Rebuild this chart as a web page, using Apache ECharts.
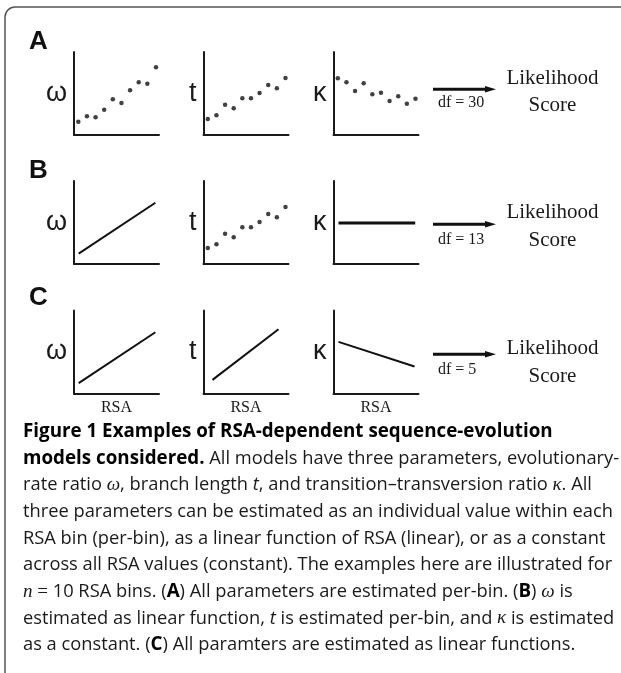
<!DOCTYPE html>
<html lang="en" style="height: 100%">
<head>
  <meta charset="utf-8">
</head>
<body style="height: 100%; margin: 0; background: #fff">
  <div id="container" style="width: 621px; height: 673px"></div>

  <script type="text/javascript" src="https://fastly.jsdelivr.net/npm/echarts@6.0.0/dist/echarts.min.js"></script>

  <script type="text/javascript">
    // values (y in arbitrary 0-10 units, x = RSA bin)
    var rowLetters = ['A', 'B', 'C'];
    var paramNames = ['ω', 't', 'κ'];
    var dfValues = [30, 13, 5];
    var bins = [1, 2, 3, 4, 5, 6, 7, 8, 9, 10];
    var omegaPerBin = [1.60, 2.25, 2.13, 3.05, 4.30, 3.86, 5.39, 6.35, 6.18, 8.16];
    var tPerBin = [1.93, 2.37, 3.65, 3.22, 4.42, 4.42, 5.06, 6.02, 5.63, 6.87];
    var kappaPerBin = [6.83, 6.35, 5.30, 6.23, 4.90, 5.10, 4.10, 4.66, 3.77, 4.37];
    var omegaLinear = [[1.04, 1.26], [9.93, 7.38]];
    var tLinear = [[1.54, 1.64], [9.19, 7.75]];
    var kappaConstant = [[1.08, 4.94], [9.97, 4.94]];
    var kappaLinear = [[1.08, 6.22], [9.89, 3.25]];

    var captionLines = [
      '{b|Figure 1 Examples of RSA-dependent sequence-evolution}',
      '{b|models considered.} All models have three parameters, evolutionary-',
      'rate ratio {i|ω}, branch length {ti|t}, and transition–transversion ratio {i|κ}. All',
      'three parameters can be estimated as an individual value within each',
      'RSA bin (per-bin), as a linear function of RSA (linear), or as a constant',
      'across all RSA values (constant). The examples here are illustrated for',
      '{i|n} {m|=} 10 RSA bins. ({b|A}) All parameters are estimated per-bin. ({b|B}) {i|ω} is',
      'estimated as linear function, {ti|t} is estimated per-bin, and {i|κ} is estimated',
      'as a constant. ({b|C}) All paramters are estimated as linear functions.'
    ];

    var dom = document.getElementById('container');
    var myChart = echarts.init(dom, null, { renderer: 'canvas' });
    var option;

    var INK = '#1a1a1a';
    var gridLefts = [74, 203.5, 333.5];
    var gridTops = [52, 181, 310.5];

    function dots(vals) {
      return {
        type: 'scatter',
        data: bins.map(function (b, i) { return [b, vals[i]]; }),
        symbolSize: 4.5,
        itemStyle: { color: '#111' }
      };
    }
    function seg(pts, w) {
      return {
        type: 'line',
        data: pts,
        showSymbol: false,
        symbol: 'none',
        lineStyle: { color: '#111', width: w || 2 }
      };
    }

    // which mark goes in which panel
    var panels = [
      [dots(omegaPerBin), dots(tPerBin), dots(kappaPerBin)],
      [seg(omegaLinear), dots(tPerBin), seg(kappaConstant, 3)],
      [seg(omegaLinear), seg(tLinear), seg(kappaLinear)]
    ];

    var grids = [], xAxes = [], yAxes = [], series = [], graphics = [];
    var axisLine = { show: true, onZero: false, lineStyle: { color: INK, width: 2 } };

    panels.forEach(function (row, r) {
      row.forEach(function (s, c) {
        var idx = grids.length;
        grids.push({
          left: gridLefts[c], top: gridTops[r], width: 85, height: 83,
          containLabel: false, outerBoundsMode: 'none'
        });
        xAxes.push({
          gridIndex: idx, type: 'value', min: 0.5, max: 10.35,
          axisLine: axisLine, axisTick: { show: false }, axisLabel: { show: false },
          splitLine: { show: false },
          name: r === 2 ? 'RSA' : '', nameLocation: 'middle', nameGap: 6,
          nameTextStyle: { fontFamily: 'Liberation Serif', fontSize: 16, color: INK }
        });
        yAxes.push({
          gridIndex: idx, type: 'value', min: 0, max: 10,
          axisLine: axisLine, axisTick: { show: false }, axisLabel: { show: false },
          splitLine: { show: false },
          name: paramNames[c], nameLocation: 'middle', nameRotate: 0, nameGap: 7,
          nameTextStyle: { fontFamily: 'Liberation Sans', fontSize: 27, color: INK }
        });
        s.xAxisIndex = idx;
        s.yAxisIndex = idx;
        s.silent = true;
        series.push(s);
      });
    });

    // panel letters, arrows, df and likelihood text
    var letterY = [42, 171, 297.5];
    var arrowY = [89.3, 224.3, 354.3];
    var dfY = [103, 240, 370];
    var likeY = [78.5, 212.7, 348.3];
    var scoreY = [105.5, 240, 376];
    rowLetters.forEach(function (L, r) {
      graphics.push({
        type: 'text',
        style: {
          text: L, x: 29, y: letterY[r], fill: '#111',
          font: 'bold 26px "Liberation Sans"',
          textVerticalAlign: 'middle', verticalAlign: 'middle'
        }
      });
      graphics.push({
        type: 'line',
        shape: { x1: 433, y1: arrowY[r], x2: 487, y2: arrowY[r] },
        style: { stroke: '#111', lineWidth: 3 }
      });
      graphics.push({
        type: 'polygon',
        shape: { points: [[485, arrowY[r] - 3.2], [496, arrowY[r]], [485, arrowY[r] + 3.2]] },
        style: { fill: '#111' }
      });
      graphics.push({
        type: 'text',
        style: {
          text: 'df = ' + dfValues[r], x: 438, y: dfY[r], fill: INK,
          font: '16px "Liberation Serif"',
          textVerticalAlign: 'middle', verticalAlign: 'middle'
        }
      });
      graphics.push({
        type: 'text',
        style: {
          text: 'Likelihood', x: 552.5, y: likeY[r], fill: INK,
          font: '21px "Liberation Serif"',
          textAlign: 'center', align: 'center',
          textVerticalAlign: 'middle', verticalAlign: 'middle'
        }
      });
      graphics.push({
        type: 'text',
        style: {
          text: 'Score', x: 552.5, y: scoreY[r], fill: INK,
          font: '21px "Liberation Serif"',
          textAlign: 'center', align: 'center',
          textVerticalAlign: 'middle', verticalAlign: 'middle'
        }
      });
    });

    // frame
    graphics.push({
      type: 'rect',
      shape: { x: 5, y: 7, width: 700, height: 800, r: 10 },
      style: { fill: null, stroke: '#555', lineWidth: 1.5 }
    });

    // caption
    var capFont = 'Open Sans';
    var capSize = 18.3;
    captionLines.forEach(function (line, k) {
      graphics.push({
        type: 'text',
        style: {
          text: line, x: 23, y: 431.7 + k * 26.67, fill: INK,
          fontFamily: capFont, fontSize: capSize,
          textVerticalAlign: 'middle', verticalAlign: 'middle',
          rich: {
            b: { fontFamily: capFont, fontSize: 18.8, fontWeight: 'bold', fill: '#000' },
            i: { fontFamily: 'Liberation Serif', fontSize: 19, fontStyle: 'italic', fill: INK },
            ti: { fontFamily: capFont, fontSize: capSize, fontStyle: 'italic', fill: INK },
            m: { fontFamily: 'Liberation Serif', fontSize: 19, fill: INK }
          }
        }
      });
    });

    option = {
      animation: false,
      backgroundColor: '#fff',
      grid: grids,
      xAxis: xAxes,
      yAxis: yAxes,
      series: series,
      graphic: { elements: graphics }
    };

    if (option && typeof option === 'object') {
      myChart.setOption(option);
    }

    window.addEventListener('resize', myChart.resize);
  </script>
</body>
</html>
